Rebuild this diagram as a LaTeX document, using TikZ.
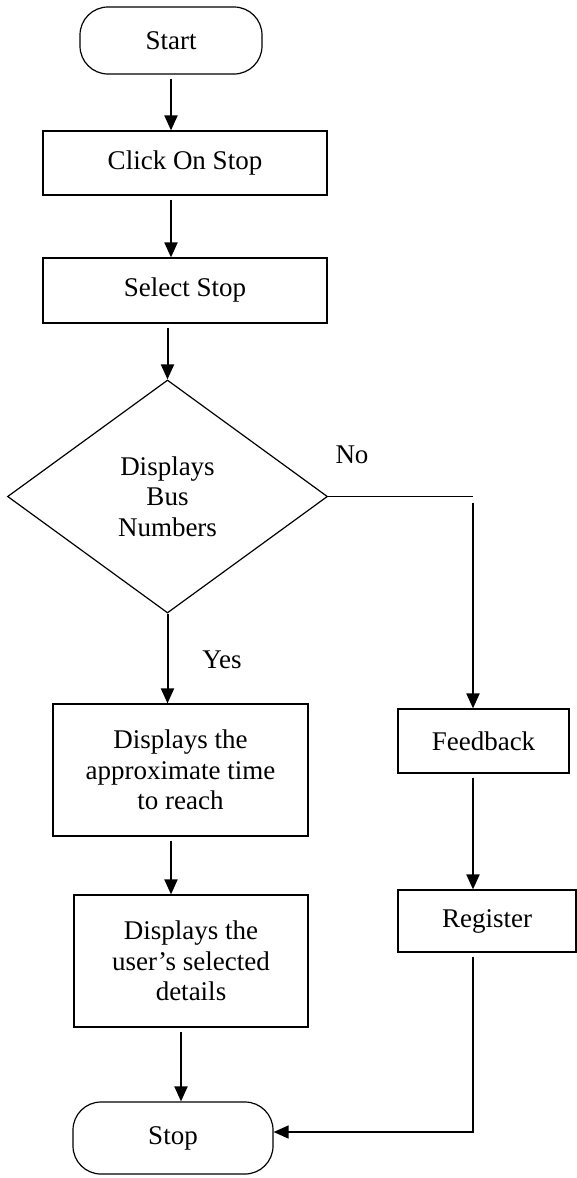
\documentclass[tikz,border=0pt]{standalone}
\usepackage{fontspec}
\setmainfont{Liberation Serif}
\usetikzlibrary{shapes.geometric,arrows.meta}

\begin{document}
\begin{tikzpicture}[x=0.5pt,y=-0.5pt,
  every node/.style={font=\fontsize{13.5}{15.3}\selectfont},
  box/.style={draw=black,line width=0.6pt,inner sep=0pt,align=center},
  term/.style={box,rounded corners=14pt},
  arr/.style={-{Triangle[length=7.5pt,width=6.5pt]},line width=1pt,shorten <=2pt},
  plain/.style={line width=0.7pt}]
\useasboundingbox (0,0) rectangle (577,1178);

\node[term,minimum width=91pt,minimum height=33.5pt] (start) at (171,40.5) {Start};
\node[box,minimum width=142pt,minimum height=32pt] (click) at (185,163) {Click On Stop};
\node[box,minimum width=142pt,minimum height=32.5pt] (select) at (185,290.5) {Select Stop};
\node[box,diamond,minimum width=160pt,minimum height=116.5pt] (bus) at (167.5,496.5) {Displays\\Bus\\Numbers};
\node[box,minimum width=127.5pt,minimum height=66pt] (approx) at (180.5,770) {Displays the\\approximate time\\to reach};
\node[box,minimum width=117pt,minimum height=66pt] (details) at (191,961) {Displays the\\user’s selected\\details};
\node[term,minimum width=100pt,minimum height=36pt] (stop) at (173,1138) {Stop};
\node[box,minimum width=85.5pt,minimum height=32pt] (feedback) at (483.5,741) {Feedback};
\node[box,minimum width=89pt,minimum height=31pt] (register) at (487,921) {Register};
\node (no) at (352,455) {No};
\node (yes) at (222,660) {Yes};

\coordinate (nocorner) at (473,496.5);
\coordinate (backcorner) at (473,1132);

\draw[arr] (start) -- (start |- click.north);
\draw[arr] (click.south -| start) -- (select.north -| start);
\draw[arr] (select.south -| bus) -- (bus.north);
\draw[arr,shorten <=0pt] (bus.south) -- (bus.south |- approx.north);
\draw[arr] (approx.south -| start) -- (details.north -| start);
\draw[arr] ([xshift=-5pt]details.south) -- ([xshift=-5pt]details.south |- stop.north);

\draw[plain] (bus.east) -- (nocorner);
\draw[arr,shorten <=3pt] (nocorner) -- (nocorner |- feedback.north);
\draw[arr] (feedback.south -| backcorner) -- (register.north -| backcorner);
\draw[plain,-{Triangle[length=7.5pt,width=6.5pt]},shorten <=2pt] (register.south -| backcorner) -- (backcorner) -- (backcorner -| stop.east);
\end{tikzpicture}
\end{document}
